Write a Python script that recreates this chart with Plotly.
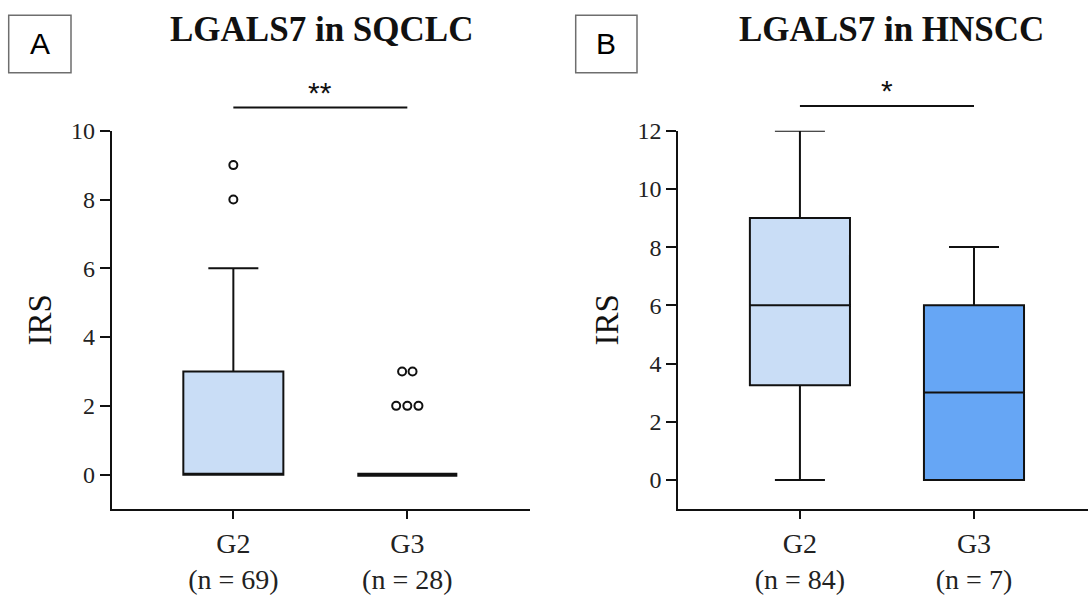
import plotly.graph_objects as go

# ---------------- data ----------------
groups = ["G2", "G3"]
a_n = [69, 28]
b_n = [84, 7]

# Panel A (SQCLC) box statistics
a_q1 = [0, 0]
a_median = [0, 0]
a_q3 = [3, 0]
a_lower = [0, 0]
a_upper = [6, 0]
a_out_g2 = [8, 9]
a_out_g3 = [3, 3, 2, 2, 2]

# Panel B (HNSCC) box statistics
b_q1 = [3.25, 0]
b_median = [6, 3]
b_q3 = [9, 6]
b_lower = [0, 0]
b_upper = [12, 8]

a_colors = ["#C9DDF6", "#C9DDF6"]
b_colors = ["#C9DDF6", "#66A6F5"]

# jitter offsets for overlapping outlier symbols (display only)
jit_g2 = [0.0, 0.0]
jit_g3 = [-0.03, 0.03, -0.064, 0.0, 0.064]

SERIF = "Liberation Serif"
SANS = "Liberation Sans"
INK = "#111111"

fig = go.Figure()

def add_boxes(xaxis, yaxis, q1, med, q3, lo, hi, colors):
    for i in range(len(groups)):
        flat = q1[i] == q3[i]
        fig.add_trace(go.Box(
            x=[i], q1=[q1[i]], median=[med[i]], q3=[q3[i]],
            lowerfence=[lo[i]], upperfence=[hi[i]],
            width=0.575, whiskerwidth=0.5,
            fillcolor=colors[i],
            line=dict(color=INK, width=4 if flat else 2),
            boxpoints=False, showlegend=False,
            xaxis=xaxis, yaxis=yaxis, hoverinfo="skip"))

add_boxes("x", "y", a_q1, a_median, a_q3, a_lower, a_upper, a_colors)
add_boxes("x2", "y2", b_q1, b_median, b_q3, b_lower, b_upper, b_colors)

# outliers panel A
mk = dict(symbol="circle-open", size=8, color=INK, line=dict(width=2, color=INK))
fig.add_trace(go.Scatter(
    x=[0 + j for j in jit_g2], y=a_out_g2, mode="markers", marker=mk,
    showlegend=False, xaxis="x", yaxis="y", hoverinfo="skip"))
fig.add_trace(go.Scatter(
    x=[1 + j for j in jit_g3], y=a_out_g3, mode="markers", marker=mk,
    showlegend=False, xaxis="x", yaxis="y", hoverinfo="skip"))

ticktext_a = [f"{g}<br>(n = {n})" for g, n in zip(groups, a_n)]
ticktext_b = [f"{g}<br>(n = {n})" for g, n in zip(groups, b_n)]

ydom = [0.1445, 0.7803]
common_x = dict(showline=True, linecolor=INK, linewidth=2, ticks="outside",
                ticklen=8, tickwidth=2, tickcolor=INK, showgrid=False, zeroline=False,
                automargin=False,
                tickvals=[0, 1], tickfont=dict(family=SERIF, size=28, color="#222222"))
common_y = dict(showline=True, linecolor=INK, linewidth=2, ticks="outside",
                ticklen=10, tickwidth=2, tickcolor=INK, showgrid=False, zeroline=False,
                automargin=False,
                tickfont=dict(family=SERIF, size=24, color="#222222"),
                title=dict(text="IRS", font=dict(family=SERIF, size=33, color="#111111"), standoff=9))

fig.update_layout(
    width=1088, height=595,
    margin=dict(l=0, r=0, t=0, b=0, autoexpand=False),
    paper_bgcolor="white", plot_bgcolor="white",
    xaxis=dict(domain=[0.1027, 0.4871], range=[-0.699, 1.705], ticktext=ticktext_a,
               anchor="y", **common_x),
    yaxis=dict(domain=ydom, range=[-1, 10], tickvals=[0, 2, 4, 6, 8, 10], anchor="x", **common_y),
    xaxis2=dict(domain=[0.6234, 1.0], range=[-0.699, 1.655], ticktext=ticktext_b,
                anchor="y2", **common_x),
    yaxis2=dict(domain=ydom, range=[-1, 12], tickvals=[0, 2, 4, 6, 8, 10, 12], anchor="x2", **common_y),
)

# titles
fig.add_annotation(text="<b>LGALS7 in SQCLC</b>", x=321 / 1088, xref="paper",
                   y=1 - 29 / 595, yref="paper", yanchor="middle", xanchor="center",
                   showarrow=False, font=dict(family=SERIF, size=35, color="#111111"))
fig.add_annotation(text="<b>LGALS7 in HNSCC</b>", x=891.5 / 1088, xref="paper",
                   y=1 - 29 / 595, yref="paper", yanchor="middle", xanchor="center",
                   showarrow=False, font=dict(family=SERIF, size=35, color="#111111"))

# panel letters
for letter, x0, x1 in [("A", 8.7, 71), ("B", 575.7, 637)]:
    fig.add_shape(type="rect", xref="paper", yref="paper",
                  x0=x0 / 1088, x1=x1 / 1088, y0=1 - 72.7 / 595, y1=1 - 15.3 / 595,
                  line=dict(color="#6E6E6E", width=1.5), fillcolor="white")
    fig.add_annotation(text=letter, x=(x0 + x1) / 2 / 1088, xref="paper",
                       y=1 - 44 / 595, yref="paper", xanchor="center", yanchor="middle",
                       showarrow=False, font=dict(family=SANS, size=30, color="#000000"))

# significance bars
for xr, ypx, star in [("x", 107.5, "**"), ("x2", 106, "*")]:
    fig.add_shape(type="line", xref=xr, yref="paper", x0=0, x1=1,
                  y0=1 - ypx / 595, y1=1 - ypx / 595, line=dict(color=INK, width=2))
    fig.add_annotation(text=star, x=0.5, xref=xr, y=1 - (ypx + 3) / 595, yref="paper",
                       xanchor="center", yanchor="bottom", showarrow=False,
                       font=dict(family=SANS, size=30, color="#111111"))

fig.write_html("out.html")
